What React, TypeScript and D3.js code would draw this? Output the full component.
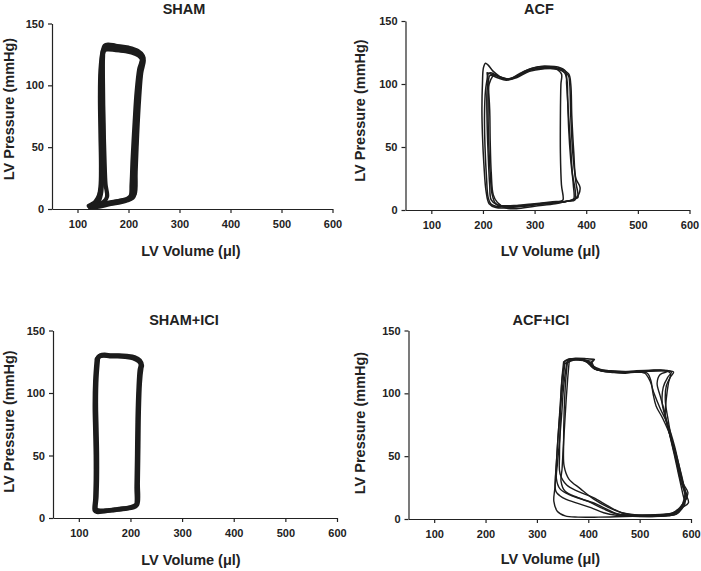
import React, { useEffect, useRef } from 'react';
import * as d3 from 'd3';

type Pt = [number, number];

// ---------- data ----------
const panelTitles = ['SHAM', 'ACF', 'SHAM+ICI', 'ACF+ICI'];
const xTicks = [100, 200, 300, 400, 500, 600];
const yTicks = [0, 50, 100, 150];
const xDomain: [number, number] = [50, 600];
const yDomain: [number, number] = [0, 150];
const xLabel = 'LV Volume (μl)';
const yLabel = 'LV Pressure (mmHg)';

// SHAM loops [volume µl, pressure mmHg]
const shamLoop1: Pt[] = [[124,1.5],[135,2.5],[150,3.5],[170,5],[190,6.5],[200,8],[207,10],[209,14],[211,30],[214,55],[218,85],[222,108],[226,119],[229,122],[225,125],[215,127.5],[200,129],[180,130],[165,131],[155,131],[150,128],[147,115],[146,95],[147,70],[148,45],[148,25],[146,12],[140,5],[130,2.5],[124,1.5]];
const shamLoop2: Pt[] = [[128,2],[140,3],[155,4],[175,6],[195,7.5],[205,9.5],[212,12],[214,30],[217,60],[221,90],[225,110],[230,120],[228,124],[218,128],[200,130.5],[175,132],[160,133],[153,132],[149,127],[145,112],[144,90],[145,60],[146,35],[145,18],[140,7],[132,3],[128,2]];
const shamLoop3: Pt[] = [[130,1],[145,2],[165,4],[185,5.5],[198,7],[208,9],[211,11],[213,35],[216,65],[220,95],[224,112],[227,121],[222,125],[210,127],[195,128],[175,128.5],[160,129],[152,128.5],[150,122],[150,100],[151,70],[153,40],[155,20],[158,10],[152,6],[140,3],[130,1]];
const shamLoop4: Pt[] = [[122,2.5],[138,3.5],[158,5],[180,6.5],[196,8],[204,10.5],[206,20],[208,40],[212,70],[216,95],[221,113],[226,121],[220,124],[206,126.5],[188,128],[170,129.5],[158,130],[151,127],[149,110],[150,80],[151,50],[150,28],[143,12],[135,6],[126,3.5],[122,2.5]];

// ACF loops
const acfLoop1: Pt[] = [[210,108],[205,95],[203,75],[204,50],[207,25],[210,10],[215,5],[225,3],[250,2.5],[280,3],[310,4.5],[340,5.5],[360,6.5],[372,8],[376,9],[375,20],[370,40],[366,65],[364,90],[363,102],[358,109],[345,112],[325,113],[300,112],[275,108],[255,104],[240,104.5],[225,107],[215,109],[210,108]];
const acfLoop2: Pt[] = [[232,106],[220,110],[210,115],[205,116.5],[201,113],[199,100],[198,80],[199,60],[202,35],[206,15],[212,5],[225,2],[255,2],[290,4],[330,5.5],[355,6.5],[370,7.5],[380,9],[384,10],[380,22],[374,45],[370,75],[368,100],[365,107],[350,111],[320,112.5],[290,111],[265,106],[248,104],[232,106]];
const acfLoop3: Pt[] = [[220,107],[212,100],[210,80],[211,55],[214,30],[218,12],[225,5],[240,3],[270,3.5],[310,5],[350,6.5],[375,8],[385,12],[388,18],[380,25],[376,45],[372,75],[370,100],[366,108],[350,112],[320,114],[295,112.5],[270,108],[250,103.5],[235,105],[225,107],[220,107]];
const acfLoop4: Pt[] = [[212,106],[208,95],[208,70],[210,45],[213,20],[216,8],[228,4],[260,3.5],[300,5],[335,6.5],[350,7],[355,8],[352,20],[350,45],[350,75],[351,100],[352,108],[340,112],[315,112],[290,110],[265,105],[245,103],[228,105],[215,107],[212,106]];
const acfLoop5: Pt[] = [[208,109],[210,100],[213,80],[214,55],[216,30],[220,12],[228,6],[245,1.5],[265,1],[300,3],[340,5],[362,7],[378,8],[373,30],[369,55],[365,80],[362,100],[360,110],[345,113.5],[320,114],[300,113],[280,110],[260,105],[245,104],[230,106],[215,108],[208,109]];

// SHAM+ICI loops
const shamIciLoop1: Pt[] = [[135,127],[132,110],[131,90],[132,70],[133,50],[133,30],[132,15],[131,6],[135,5],[150,5.5],[170,6.5],[190,7.5],[205,8.5],[211,10],[212,25],[213,50],[214,80],[216,105],[218,118],[220,123],[216,125.5],[205,128],[190,129],[175,129.5],[160,129.5],[148,130],[140,129.5],[135,127]];
const shamIciLoop2: Pt[] = [[137,128],[134,112],[133,92],[134,72],[135,52],[135,32],[134,17],[133,7],[138,6],[155,6],[175,7],[195,8],[207,9.5],[213,11],[214,28],[215,55],[216,85],[218,108],[221,120],[222,122],[218,126],[208,128.5],[193,129.5],[178,130],[163,130],[150,130.5],[142,130],[137,128]];

// ACF+ICI loops
const acfIciLoop1: Pt[] = [[355,126],[350,115],[346,95],[342,70],[338,45],[335,25],[333,14],[340,6],[355,2.5],[380,1.5],[420,1.5],[470,2],[520,2.5],[555,3],[570,5],[580,9],[586,15],[588,20],[580,30],[572,45],[563,60],[552,78],[544,92],[546,105],[555,113],[562,117],[545,118.5],[515,118],[485,117],[455,117.5],[428,118],[412,119.5],[404,123],[392,126],[375,127.5],[362,127],[355,126]];
const acfIciLoop2: Pt[] = [[360,127],[356,110],[353,85],[352,60],[353,42],[362,32],[385,24],[410,16],[440,9],[465,5],[490,3.5],[530,3],[560,3.5],[575,6],[585,12],[592,18],[586,26],[578,40],[568,58],[555,75],[540,88],[528,100],[520,110],[510,116],[490,117],[460,116.5],[430,117.5],[413,119.5],[404,124],[412,127],[398,127.5],[375,128],[360,127]];
const acfIciLoop3: Pt[] = [[352,125],[348,108],[346,90],[345,70],[344,50],[345,36],[358,27],[380,22],[410,17],[440,10],[465,5],[490,3],[530,3.5],[562,4.5],[578,9],[590,16],[594,21],[585,28],[575,42],[565,58],[556,72],[548,86],[540,98],[534,108],[540,115],[555,117.5],[530,118],[500,117],[470,117.5],[440,118],[418,119],[406,121.5],[396,125],[382,127],[365,127.5],[352,125]];
const acfIciLoop4: Pt[] = [[358,124],[352,105],[348,82],[344,62],[340,44],[338,32],[345,24],[365,19],[400,14],[430,8],[455,4],[480,2.5],[520,2],[555,2.5],[572,4],[582,8],[588,12],[584,20],[576,35],[567,52],[558,68],[550,82],[552,96],[556,108],[560,116],[550,118],[522,118.5],[494,118],[466,117],[436,117.5],[414,119],[405,122.5],[410,126.5],[394,126],[372,126.5],[358,124]];
const acfIciLoop5: Pt[] = [[363,126],[360,112],[357,95],[354,75],[351,55],[349,40],[347,30],[355,22],[380,17],[415,12],[440,7],[458,4],[490,3],[540,3.5],[566,5],[582,9],[595,13],[590,20],[582,34],[572,50],[560,66],[545,80],[532,90],[526,100],[522,110],[515,116],[495,117],[472,116],[450,116.5],[425,118],[412,120.5],[407,124],[386,126.5],[363,126]];
const acfIciLoop6: Pt[] = [[354,123],[350,105],[345,85],[341,65],[338,45],[336,32],[337,22],[350,17],[375,13],[405,9],[430,5],[455,3],[500,2],[550,2.5],[572,4],[584,10],[590,16],[586,24],[578,36],[570,50],[562,64],[555,80],[550,94],[552,106],[560,113],[566,117],[545,118],[515,117.5],[480,117],[450,117.5],[424,119],[408,122],[398,126],[380,127.5],[362,126],[354,123]];

const panelLoops: Pt[][][] = [
  [shamLoop1, shamLoop2, shamLoop3, shamLoop4],
  [acfLoop1, acfLoop2, acfLoop3, acfLoop4, acfLoop5],
  [shamIciLoop1, shamIciLoop2],
  [acfIciLoop1, acfIciLoop2, acfIciLoop3, acfIciLoop4, acfIciLoop5, acfIciLoop6],
];

// ---------- layout (positions / styles) ----------
const layout = [
  { x0: 52, x1: 332.5, yT: 23.5, yB: 209, tX: 184, tY: 13.5, xlX: 191, xlY: 256, ylX: 14, ylY: 109, sw: 4.2 },
  { x0: 405.5, x1: 689.5, yT: 21, yB: 210, tX: 539, tY: 13.5, xlX: 550.5, xlY: 256, ylX: 365, ylY: 110.5, sw: 1.5 },
  { x0: 53, x1: 337, yT: 330.5, yB: 518, tX: 184, tY: 325, xlX: 191, xlY: 565, ylX: 14, ylY: 421.5, sw: 4.6 },
  { x0: 408.5, x1: 691, yT: 330.5, yB: 519, tX: 541, tY: 325, xlX: 550.5, xlY: 563.5, ylX: 365, ylY: 423, sw: 1.4 },
];

const FONT = '"Liberation Sans", Arial, Helvetica, sans-serif';
const INK = '#222';

export default function App() {
  const ref = useRef<SVGSVGElement | null>(null);

  useEffect(() => {
    const svg = d3.select(ref.current);
    svg.selectAll('*').remove();

    layout.forEach((L, i) => {
      const x = d3.scaleLinear().domain(xDomain).range([L.x0, L.x1]);
      const y = d3.scaleLinear().domain(yDomain).range([L.yB, L.yT]);
      const g = svg.append('g');

      const line = d3
        .line<Pt>()
        .x((d) => x(d[0]))
        .y((d) => y(d[1]))
        .curve(d3.curveCatmullRom.alpha(0.5));
      panelLoops[i].forEach((loop) => {
        g.append('path')
          .attr('d', line(loop) as string)
          .attr('fill', 'none')
          .attr('stroke', '#1c1c1c')
          .attr('stroke-width', L.sw)
          .attr('stroke-linejoin', 'round')
          .attr('stroke-linecap', 'round');
      });

      const xAxis = d3.axisBottom(x).tickValues(xTicks).tickSize(4).tickSizeOuter(0).tickPadding(4);
      const yAxis = d3.axisLeft(y).tickValues(yTicks).tickSize(4).tickSizeOuter(0).tickPadding(4);
      const gx = g.append('g').attr('transform', `translate(0,${L.yB})`).call(xAxis);
      const gy = g.append('g').attr('transform', `translate(${L.x0},0)`).call(yAxis);
      [gx, gy].forEach((ax) => {
        ax.selectAll('path,line').attr('stroke', INK).attr('stroke-width', 1.2);
        ax.selectAll('text')
          .attr('fill', INK)
          .style('font-family', FONT)
          .style('font-weight', 'bold')
          .style('font-size', '11px');
      });
      gx.selectAll('text').attr('dy', '1em');

      g.append('text')
        .attr('x', L.tX)
        .attr('y', L.tY)
        .attr('text-anchor', 'middle')
        .attr('fill', INK)
        .style('font-family', FONT)
        .style('font-weight', 'bold')
        .style('font-size', '14.5px')
        .text(panelTitles[i]);

      g.append('text')
        .attr('x', L.xlX)
        .attr('y', L.xlY)
        .attr('text-anchor', 'middle')
        .attr('fill', INK)
        .style('font-family', FONT)
        .style('font-weight', 'bold')
        .style('font-size', '14.5px')
        .text(xLabel);

      g.append('text')
        .attr('transform', `translate(${L.ylX},${L.ylY}) rotate(-90)`)
        .attr('text-anchor', 'middle')
        .attr('fill', INK)
        .style('font-family', FONT)
        .style('font-weight', 'bold')
        .style('font-size', '14.5px')
        .text(yLabel);
    });
  }, []);

  return (
    <svg
      ref={ref}
      width={701}
      height={571}
      viewBox="0 0 701 571"
      style={{ position: 'absolute', left: 0, top: 0, background: '#fff' }}
    />
  );
}
